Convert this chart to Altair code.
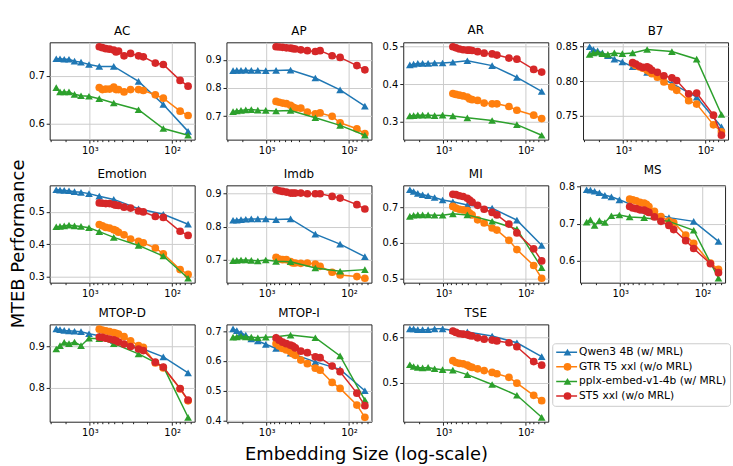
import altair as alt
import pandas as pd
import numpy as np

MODELS = ["Qwen3 4B (w/ MRL)", "GTR T5 xxl (w/o MRL)", "pplx-embed-v1-4b (w/ MRL)", "ST5 xxl (w/o MRL)"]
MARKER_KEYS = ["m_qwen", "m_gtr", "m_pplx", "m_st5"]
COLORS = ["#1f77b4", "#ff7f0e", "#2ca02c", "#d62728"]
SHAPES = ["triangle-up", "circle", "triangle-up", "circle"]

DIMS_MRL = [2560, 2304, 2048, 1792, 1536, 1280, 1024, 768, 512, 256, 128, 64]
DIMS_T5 = [768, 704, 640, 576, 512, 480, 448, 384, 320, 256, 224, 160, 128, 80, 64]

TASKS = ["AC", "AP", "AR", "B7", "Emotion", "Imdb", "MI", "MS", "MTOP-D", "MTOP-I", "TSE"]

AC_QWEN = [0.735, 0.735, 0.734, 0.734, 0.730, 0.728, 0.723, 0.719, 0.719, 0.688, 0.640, 0.584]
AC_GTR = [0.675, 0.671, 0.672, 0.672, 0.676, 0.671, 0.671, 0.666, 0.671, 0.671, 0.669, 0.660, 0.653, 0.626, 0.617]
AC_PPLX = [0.675, 0.666, 0.666, 0.666, 0.661, 0.658, 0.657, 0.652, 0.643, 0.629, 0.590, 0.576]
AC_ST5 = [0.760, 0.758, 0.756, 0.755, 0.753, 0.749, 0.751, 0.741, 0.746, 0.741, 0.739, 0.726, 0.723, 0.690, 0.678]

AP_QWEN = [0.861, 0.862, 0.862, 0.863, 0.862, 0.862, 0.861, 0.862, 0.863, 0.835, 0.793, 0.735]
AP_GTR = [0.752, 0.749, 0.746, 0.744, 0.738, 0.732, 0.728, 0.728, 0.714, 0.708, 0.711, 0.699, 0.676, 0.655, 0.638]
AP_PPLX = [0.716, 0.718, 0.720, 0.722, 0.723, 0.721, 0.720, 0.718, 0.720, 0.694, 0.667, 0.632]
AP_ST5 = [0.946, 0.945, 0.944, 0.942, 0.941, 0.939, 0.938, 0.935, 0.932, 0.929, 0.932, 0.914, 0.908, 0.879, 0.864]

AR_QWEN = [0.451, 0.453, 0.455, 0.455, 0.455, 0.456, 0.456, 0.458, 0.462, 0.449, 0.418, 0.381]
AR_GTR = [0.375, 0.373, 0.371, 0.369, 0.366, 0.361, 0.359, 0.357, 0.350, 0.348, 0.348, 0.341, 0.331, 0.318, 0.309]
AR_PPLX = [0.316, 0.317, 0.318, 0.318, 0.318, 0.317, 0.318, 0.316, 0.311, 0.304, 0.293, 0.265]
AR_ST5 = [0.499, 0.496, 0.493, 0.491, 0.490, 0.490, 0.489, 0.486, 0.482, 0.480, 0.477, 0.469, 0.466, 0.439, 0.432]

B7_QWEN = [0.850, 0.846, 0.844, 0.841, 0.837, 0.832, 0.828, 0.821, 0.813, 0.797, 0.777, 0.734]
B7_GTR = [0.826, 0.823, 0.821, 0.819, 0.816, 0.814, 0.811, 0.806, 0.799, 0.792, 0.787, 0.772, 0.767, 0.737, 0.727]
B7_PPLX = [0.839, 0.841, 0.842, 0.840, 0.839, 0.841, 0.840, 0.841, 0.846, 0.843, 0.832, 0.752]
B7_ST5 = [0.827, 0.825, 0.822, 0.820, 0.821, 0.819, 0.816, 0.813, 0.808, 0.805, 0.801, 0.782, 0.783, 0.751, 0.722]

EMO_QWEN = [0.569, 0.568, 0.567, 0.566, 0.563, 0.561, 0.557, 0.549, 0.539, 0.510, 0.493, 0.462]
EMO_GTR = [0.461, 0.457, 0.452, 0.450, 0.445, 0.442, 0.437, 0.429, 0.416, 0.409, 0.404, 0.388, 0.370, 0.321, 0.306]
EMO_PPLX = [0.454, 0.455, 0.457, 0.459, 0.457, 0.455, 0.451, 0.439, 0.421, 0.396, 0.363, 0.294]
EMO_ST5 = [0.528, 0.527, 0.526, 0.526, 0.523, 0.521, 0.520, 0.515, 0.512, 0.503, 0.500, 0.486, 0.483, 0.440, 0.427]

IMDB_QWEN = [0.820, 0.820, 0.822, 0.823, 0.824, 0.824, 0.824, 0.822, 0.824, 0.778, 0.748, 0.710]
IMDB_GTR = [0.708, 0.703, 0.701, 0.701, 0.695, 0.691, 0.691, 0.690, 0.691, 0.688, 0.681, 0.663, 0.655, 0.650, 0.645]
IMDB_PPLX = [0.698, 0.699, 0.700, 0.700, 0.699, 0.697, 0.700, 0.696, 0.695, 0.676, 0.666, 0.671]
IMDB_ST5 = [0.912, 0.909, 0.907, 0.905, 0.902, 0.902, 0.902, 0.902, 0.900, 0.900, 0.900, 0.892, 0.887, 0.867, 0.854]

MI_QWEN = [0.750, 0.745, 0.740, 0.736, 0.733, 0.728, 0.721, 0.716, 0.707, 0.698, 0.664, 0.593]
MI_GTR = [0.703, 0.698, 0.695, 0.693, 0.691, 0.684, 0.679, 0.665, 0.656, 0.642, 0.636, 0.607, 0.581, 0.536, 0.500]
MI_PPLX = [0.675, 0.678, 0.679, 0.679, 0.679, 0.678, 0.678, 0.682, 0.679, 0.661, 0.639, 0.530]
MI_ST5 = [0.737, 0.736, 0.733, 0.731, 0.726, 0.721, 0.715, 0.706, 0.695, 0.686, 0.679, 0.653, 0.628, 0.583, 0.549]

MS_QWEN = [0.791, 0.790, 0.787, 0.783, 0.776, 0.772, 0.764, 0.753, 0.736, 0.716, 0.706, 0.652]
MS_GTR = [0.766, 0.764, 0.761, 0.757, 0.755, 0.752, 0.746, 0.733, 0.719, 0.707, 0.703, 0.669, 0.647, 0.594, 0.577]
MS_PPLX = [0.704, 0.710, 0.695, 0.708, 0.703, 0.721, 0.723, 0.718, 0.716, 0.706, 0.682, 0.553]
MS_ST5 = [0.746, 0.742, 0.740, 0.737, 0.736, 0.733, 0.730, 0.718, 0.706, 0.695, 0.684, 0.654, 0.633, 0.592, 0.568]

MTOPD_QWEN = [0.943, 0.941, 0.939, 0.938, 0.937, 0.936, 0.931, 0.926, 0.915, 0.898, 0.875, 0.836]
MTOPD_GTR = [0.942, 0.940, 0.938, 0.936, 0.934, 0.932, 0.930, 0.924, 0.914, 0.902, 0.898, 0.860, 0.848, 0.797, 0.768]
MTOPD_PPLX = [0.894, 0.902, 0.910, 0.907, 0.911, 0.902, 0.920, 0.919, 0.907, 0.882, 0.851, 0.728]
MTOPD_ST5 = [0.923, 0.922, 0.920, 0.918, 0.916, 0.914, 0.911, 0.906, 0.900, 0.894, 0.890, 0.862, 0.850, 0.798, 0.770]

MTOPI_QWEN = [0.708, 0.702, 0.694, 0.687, 0.674, 0.667, 0.656, 0.642, 0.626, 0.597, 0.572, 0.500]
MTOPI_GTR = [0.658, 0.650, 0.642, 0.637, 0.631, 0.624, 0.619, 0.603, 0.591, 0.576, 0.569, 0.528, 0.508, 0.452, 0.411]
MTOPI_PPLX = [0.680, 0.681, 0.683, 0.681, 0.680, 0.678, 0.680, 0.681, 0.687, 0.678, 0.617, 0.469]
MTOPI_ST5 = [0.678, 0.670, 0.663, 0.658, 0.653, 0.650, 0.644, 0.633, 0.628, 0.614, 0.611, 0.583, 0.564, 0.492, 0.450]

TSE_QWEN = [0.620, 0.620, 0.618, 0.618, 0.618, 0.620, 0.620, 0.616, 0.613, 0.604, 0.589, 0.558]
TSE_GTR = [0.549, 0.545, 0.543, 0.542, 0.539, 0.536, 0.534, 0.531, 0.527, 0.523, 0.520, 0.512, 0.499, 0.472, 0.460]
TSE_PPLX = [0.540, 0.536, 0.534, 0.533, 0.534, 0.531, 0.529, 0.528, 0.518, 0.496, 0.472, 0.423]
TSE_ST5 = [0.615, 0.612, 0.609, 0.608, 0.607, 0.605, 0.604, 0.600, 0.597, 0.595, 0.593, 0.589, 0.580, 0.547, 0.539]

Y_TICKS = {
    "AC": [0.6, 0.7], "AP": [0.7, 0.8, 0.9], "AR": [0.3, 0.4, 0.5], "B7": [0.75, 0.80, 0.85],
    "Emotion": [0.3, 0.4, 0.5], "Imdb": [0.7, 0.8, 0.9], "MI": [0.5, 0.6, 0.7], "MS": [0.6, 0.7, 0.8],
    "MTOP-D": [0.8, 0.9], "MTOP-I": [0.4, 0.5, 0.6, 0.7], "TSE": [0.5, 0.6],
}
X_TICKS = [3000, 2000, 1000, 900, 800, 700, 600, 500, 400, 300, 200, 100, 90, 80, 70, 60]

SERIES = {
    "AC": [AC_QWEN, AC_GTR, AC_PPLX, AC_ST5],
    "AP": [AP_QWEN, AP_GTR, AP_PPLX, AP_ST5],
    "AR": [AR_QWEN, AR_GTR, AR_PPLX, AR_ST5],
    "B7": [B7_QWEN, B7_GTR, B7_PPLX, B7_ST5],
    "Emotion": [EMO_QWEN, EMO_GTR, EMO_PPLX, EMO_ST5],
    "Imdb": [IMDB_QWEN, IMDB_GTR, IMDB_PPLX, IMDB_ST5],
    "MI": [MI_QWEN, MI_GTR, MI_PPLX, MI_ST5],
    "MS": [MS_QWEN, MS_GTR, MS_PPLX, MS_ST5],
    "MTOP-D": [MTOPD_QWEN, MTOPD_GTR, MTOPD_PPLX, MTOPD_ST5],
    "MTOP-I": [MTOPI_QWEN, MTOPI_GTR, MTOPI_PPLX, MTOPI_ST5],
    "TSE": [TSE_QWEN, TSE_GTR, TSE_PPLX, TSE_ST5],
}
SERIES_DIMS = [DIMS_MRL, DIMS_T5, DIMS_MRL, DIMS_T5]

FONT = "DejaVu Sans"
PW, PH = 146, 98

# x domain: log range with 5% margins (matplotlib style)
lo, hi = np.log10(min(DIMS_MRL)), np.log10(max(DIMS_MRL))
m = 0.05 * (hi - lo)
XDOM = [float(10 ** (lo - m)), float(10 ** (hi + m))]

MAJOR = "datum.value == 1000 || datum.value == 100"
x_axis = alt.Axis(
    values=X_TICKS, title=None, grid=True, labelOverlap=False, labelFlush=False,
    labelExpr="datum.value == 1000 ? '10³' : (datum.value == 100 ? '10²' : '')",
    tickSize={"condition": {"test": MAJOR, "value": 3.5}, "value": 2},
    gridOpacity={"condition": {"test": MAJOR, "value": 1}, "value": 0},
    minExtent=18, maxExtent=18, labelPadding=2,
)

LEG_X, LEG_Y = 506, 303
line_legend = alt.Legend(
    title=None, orient="none", legendX=LEG_X, legendY=LEG_Y, symbolType="stroke",
    symbolSize=441, symbolStrokeWidth=1.5, labelFont=FONT, labelFontSize=10.7, labelColor="black",
    padding=3, strokeColor="#cccccc", cornerRadius=3, clipHeight=12, rowPadding=2.7, labelOffset=1,
)
marker_legend = alt.Legend(
    title=None, orient="none", legendX=LEG_X, legendY=LEG_Y, symbolSize=60, symbolStrokeWidth=0,
    labelExpr="''", labelFont=FONT, labelFontSize=10.7, padding=3, clipHeight=12, rowPadding=2.7,
    symbolOffset=7,
)
cscale = alt.Scale(domain=MODELS, range=COLORS)
fscale = alt.Scale(domain=MARKER_KEYS, range=COLORS)
sscale = alt.Scale(domain=MARKER_KEYS, range=SHAPES)


def panel(task):
    rows = []
    for name, key, dims, vals in zip(MODELS, MARKER_KEYS, SERIES_DIMS, SERIES[task]):
        for d, v in zip(dims, vals):
            rows.append({"model": name, "mk": key, "dim": d, "value": v})
    df = pd.DataFrame(rows)
    vmin, vmax = df["value"].min(), df["value"].max()
    pad = 0.05 * (vmax - vmin)
    ydom = [float(vmin - pad), float(vmax + pad)]
    fmt = ".2f" if task == "B7" else ".1f"
    x = alt.X("dim:Q", scale=alt.Scale(type="log", domain=XDOM, reverse=True, nice=False), axis=x_axis)
    y = alt.Y("value:Q", scale=alt.Scale(domain=ydom, zero=False, nice=False),
              axis=alt.Axis(values=Y_TICKS[task], format=fmt, title=None, tickSize=3.5,
                            minExtent=25, maxExtent=25, labelPadding=2, grid=True))
    layers = []
    for name in MODELS:
        base = alt.Chart(df[df["model"] == name])
        layers.append(base.mark_line(strokeWidth=1.5).encode(
            x=x, y=y, color=alt.Color("model:N", scale=cscale, legend=line_legend)))
        layers.append(base.mark_point(filled=True, size=60, opacity=1).encode(
            x=x, y=y,
            fill=alt.Fill("mk:N", scale=fscale, legend=marker_legend),
            shape=alt.Shape("mk:N", scale=sscale, legend=marker_legend)))
    return alt.layer(*layers).properties(width=PW, height=PH, title=task)


HSP, VSP = 5, 5
row1 = alt.hconcat(*[panel(t) for t in TASKS[0:4]], spacing=HSP)
row2 = alt.hconcat(*[panel(t) for t in TASKS[4:8]], spacing=HSP)
row3 = alt.hconcat(*[panel(t) for t in TASKS[8:11]], spacing=HSP)

grid = alt.vconcat(row1, row2, row3, spacing=VSP).properties(
    title=alt.TitleParams("Embedding Size (log-scale)", orient="bottom", anchor="middle",
                          fontSize=18, font=FONT, fontWeight="normal", color="black", offset=6, dx=-10)
)
chart = alt.hconcat(grid).properties(
    title=alt.TitleParams("MTEB Performance", orient="left", anchor="middle",
                          fontSize=18, font=FONT, fontWeight="normal", color="black", offset=-4),
    padding={"left": 10, "top": 22, "right": 2, "bottom": 2},
).resolve_scale(color="shared", fill="shared", shape="shared").configure(
    font=FONT
).configure_view(
    stroke="#222222", strokeWidth=1
).configure_axis(
    labelFont=FONT, labelFontSize=10, labelColor="black", tickColor="#222222",
    gridColor="#cccccc", gridWidth=1, domain=False,
).configure_title(
    font=FONT, fontSize=12, fontWeight="normal", color="black", offset=4
)

chart.save("out.html", embed_options={"renderer": "svg", "actions": False})
